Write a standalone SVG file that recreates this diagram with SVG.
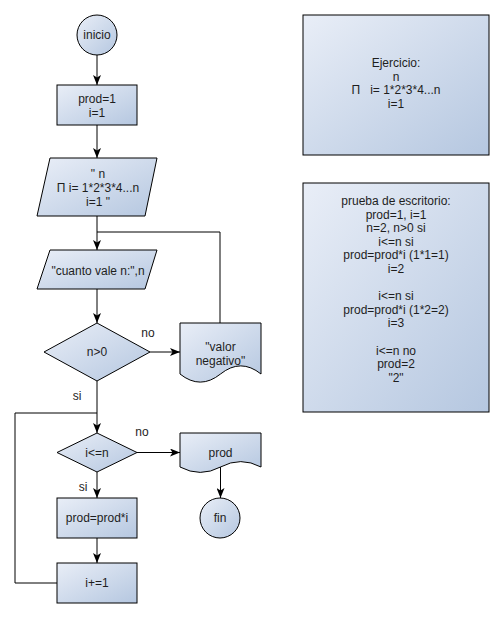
<svg xmlns="http://www.w3.org/2000/svg" width="503" height="619" viewBox="0 0 503 619">
<style>
.s{fill:url(#g);stroke:#000;stroke-width:1}
.t{font-family:"Liberation Sans",Arial,sans-serif;font-size:12px;fill:#1e1e1e;text-anchor:middle}
.c{fill:none;stroke:#000;stroke-width:1}
</style>
<defs>
<linearGradient id="g" x1="0" y1="0" x2="1" y2="1">
<stop offset="0" stop-color="#e9eef7"/>
<stop offset="1" stop-color="#b5c7e0"/>
</linearGradient>
<marker id="a" viewBox="0 0 10 8" refX="10" refY="4" markerWidth="10" markerHeight="8" markerUnits="userSpaceOnUse" orient="auto">
<path d="M0,0 L10,4 L0,8 L2.5,4 Z" fill="#000"/>
</marker>
</defs>
<rect width="503" height="619" fill="#fff"/>
<g id="connectors">
<path class="c" d="M97,55 V85" marker-end="url(#a)"/>
<path class="c" d="M97,125 V158" marker-end="url(#a)"/>
<path class="c" d="M97,216 V250" marker-end="url(#a)"/>
<path class="c" d="M220,323 V232 H97"/>
<path class="c" d="M97,289 V323" marker-end="url(#a)"/>
<path class="c" d="M150,352 H180" marker-end="url(#a)"/>
<path class="c" d="M97,381 V433" marker-end="url(#a)"/>
<path class="c" d="M57,583 H15 V413 H97"/>
<path class="c" d="M137,452.5 H180" marker-end="url(#a)"/>
<path class="c" d="M97,472 V498" marker-end="url(#a)"/>
<path class="c" d="M97,538 V563" marker-end="url(#a)"/>
<path class="c" d="M220.5,467 V498" marker-end="url(#a)"/>
<text class="t" x="148" y="337">no</text>
<text class="t" x="77" y="400">si</text>
<text class="t" x="142" y="436">no</text>
<text class="t" x="83" y="491">si</text>
</g>
<g id="inicio">
<circle class="s" cx="97" cy="35" r="20"/>
<text class="t" x="97" y="39">inicio</text>
</g>
<g id="init">
<rect class="s" x="57" y="85" width="80" height="40"/>
<text class="t" x="97" y="103">prod=1<tspan x="97" dy="14">i=1</tspan></text>
</g>
<g id="print1">
<path class="s" d="M50,158 H157 L145,216 H37 Z"/>
<text class="t" x="98" y="178" xml:space="preserve">" n<tspan x="98" dy="14">Π i= 1*2*3*4...n</tspan><tspan x="98" dy="14">i=1 "</tspan></text>
</g>
<g id="read">
<path class="s" d="M50,250 H157 L145,289 H37 Z"/>
<text class="t" x="98" y="275">"cuanto vale n:",n</text>
</g>
<g id="cond1">
<path class="s" d="M97,323 L150,352 L97,381 L44,352 Z"/>
<text class="t" x="97" y="356">n&gt;0</text>
</g>
<g id="negativo">
<path class="s" d="M180,323 H261 V374 Q240.75,357.8 220.5,374 Q200.25,390.2 180,374 Z"/>
<text class="t" x="220.5" y="351">"valor<tspan x="220.5" dy="14">negativo"</tspan></text>
</g>
<g id="cond2">
<path class="s" d="M97,433 L137,452.5 L97,472 L57,452.5 Z"/>
<text class="t" x="97" y="457">i&lt;=n</text>
</g>
<g id="out">
<path class="s" d="M180,433 H261 V467 Q240.75,456.2 220.5,467 Q200.25,477.8 180,467 Z"/>
<text class="t" x="220.5" y="457">prod</text>
</g>
<g id="fin">
<circle class="s" cx="220" cy="518" r="20"/>
<text class="t" x="220" y="522">fin</text>
</g>
<g id="mult">
<rect class="s" x="57" y="498" width="80" height="40"/>
<text class="t" x="97" y="522">prod=prod*i</text>
</g>
<g id="inc">
<rect class="s" x="57" y="563" width="80" height="40"/>
<text class="t" x="97" y="587">i+=1</text>
</g>
<g id="ejercicio">
<rect class="s" x="303" y="15" width="186" height="140"/>
<text class="t" x="396" y="67" xml:space="preserve">Ejercicio:<tspan x="396" dy="13.7">n</tspan><tspan x="396" dy="13.7">Π   i= 1*2*3*4...n</tspan><tspan x="396" dy="13.7">i=1</tspan></text>
</g>
<g id="prueba">
<rect class="s" x="303" y="183" width="186" height="229"/>
<text class="t" x="396" y="205">prueba de escritorio:<tspan x="396" dy="13.6">prod=1, i=1</tspan><tspan x="396" dy="13.6">n=2, n&gt;0 si</tspan><tspan x="396" dy="13.6">i&lt;=n si</tspan><tspan x="396" dy="13.6">prod=prod*i (1*1=1)</tspan><tspan x="396" dy="13.6">i=2</tspan><tspan x="396" dy="27.2">i&lt;=n si</tspan><tspan x="396" dy="13.6">prod=prod*i (1*2=2)</tspan><tspan x="396" dy="13.6">i=3</tspan><tspan x="396" dy="27.2">i&lt;=n no</tspan><tspan x="396" dy="13.6">prod=2</tspan><tspan x="396" dy="13.6">"2"</tspan></text>
</g>
</svg>
